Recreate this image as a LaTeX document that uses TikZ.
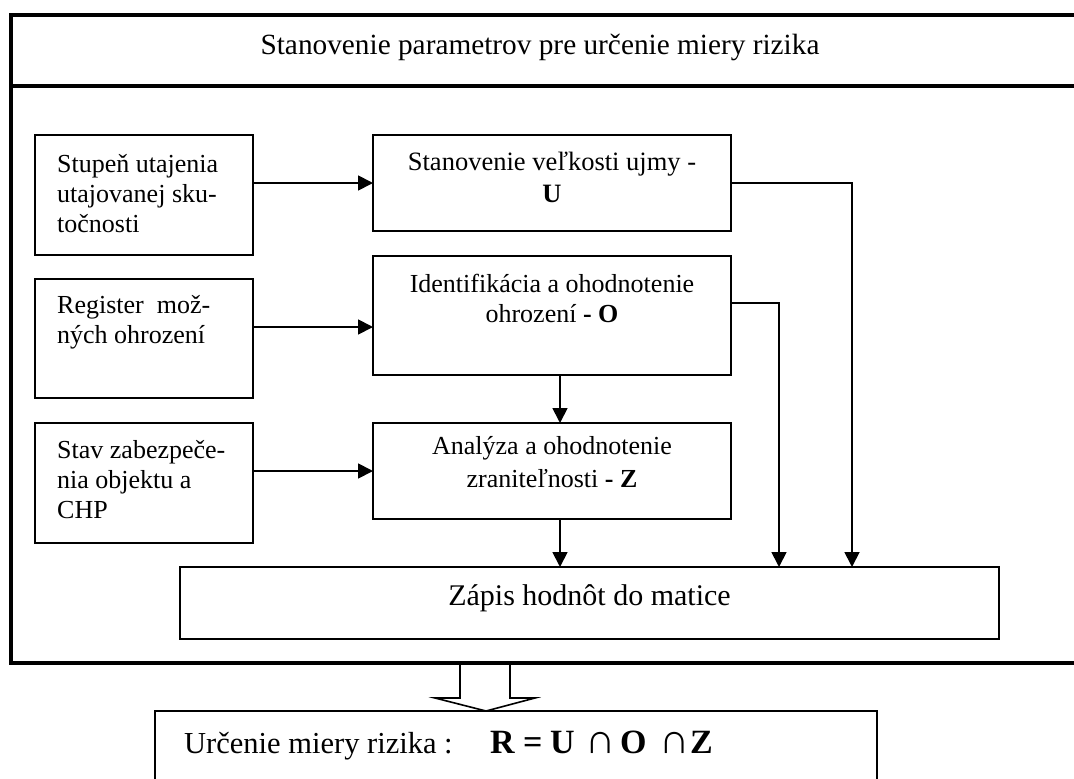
\documentclass[tikz,border=0pt]{standalone}
\usepackage{fontspec}
\setmainfont{Liberation Serif}
\usetikzlibrary{arrows.meta}
\newcommand{\slot}[2]{\makebox[#1][l]{#2}}
\newcommand{\capsym}[1]{{\hspace*{#1}\fontsize{42}{42}\selectfont ∩}}
\begin{document}
\begin{tikzpicture}[x=1pt,y=-1pt,
  frameline/.style={line width=4pt},
  blk/.style={draw, line width=1.8pt, inner sep=0pt, outer sep=0pt, anchor=north west},
  lbl/.style={inner sep=0pt, font=\fontsize{26}{30}\selectfont},
  flow/.style={line width=1.8pt, -{Triangle[length=15pt,width=15pt]}},
]
\useasboundingbox (0,0) rectangle (1074,779);

% outer frame with its heading strip
\draw[frameline] (1090,15) -- (11,15) -- (11,663) -- (1090,663);
\draw[frameline] (11,86) -- (1090,86);
\node[inner sep=0pt, font=\fontsize{29.3}{33}\selectfont, anchor=base] (title) at (540,54)
  {Stanovenie parametrov pre určenie miery rizika};

% input boxes (multi-line labels are anchored on their last baseline)
\node[blk, minimum width=218pt, minimum height=120pt] (s1) at (35,135) {};
\node[blk, minimum width=218pt, minimum height=119pt] (s2) at (35,279) {};
\node[blk, minimum width=218pt, minimum height=120pt] (s3) at (35,423) {};
\node[lbl, anchor=base west, align=left] (t1) at ([xshift=22pt,yshift=-97pt]s1.north west)
  {Stupeň utajenia\\utajovanej sku-\\točnosti};
\node[lbl, anchor=base west, align=left] (t2) at ([xshift=22pt,yshift=-64pt]s2.north west)
  {Register\ \ mož-\\ných ohrození};
\node[lbl, anchor=base west, align=left] (t3) at ([xshift=22pt,yshift=-95pt]s3.north west)
  {Stav zabezpeče-\\nia objektu a\\CHP};

% evaluation boxes
\node[blk, minimum width=358pt, minimum height=96pt] (u) at (373,135) {};
\node[blk, minimum width=358pt, minimum height=119pt] (o) at (373,256) {};
\node[blk, minimum width=358pt, minimum height=96pt] (z) at (373,423) {};
\node[lbl, font=\fontsize{26.5}{32}\selectfont, anchor=base, align=center] (tu) at ([yshift=-67pt]u.north)
  {Stanovenie\ veľkosti\ ujmy\ -\\\textbf{U}};
\node[lbl, anchor=base, align=center] (to) at ([yshift=-66pt]o.north)
  {Identifikácia a ohodnotenie\\ohrození \textbf{- O}};
\node[lbl, font=\fontsize{26}{33}\selectfont, anchor=base, align=center] (tz) at ([yshift=-64pt]z.north)
  {Analýza a ohodnotenie\\zraniteľnosti \textbf{- Z}};

% matrix entry box
\node[blk, minimum width=819pt, minimum height=72pt] (zap) at (180,567) {};
\node[inner sep=0pt, font=\fontsize{30}{34}\selectfont, anchor=base] (tzap) at ([yshift=-38pt]zap.north)
  {Zápis hodnôt do matice};

% result box
\node[blk, minimum width=722pt, minimum height=110pt] (res) at (155,711) {};
\node[inner sep=0pt, font=\fontsize{30.5}{34}\selectfont, anchor=base west] (tres) at (184,753)
  {\slot{306pt}{Určenie miery rizika :}{\fontsize{34}{38}\selectfont\bfseries
   \slot{33pt}{R}\slot{27pt}{=}\slot{35pt}{U}\slot{35pt}{\mdseries\capsym{0pt}}\slot{45pt}{O}\slot{25pt}{\mdseries\capsym{-6pt}}Z}};

% connectors
\draw[flow] (s1.east |- u.west) -- (u.west);
\draw[flow] (s2.east |- 0,327) -- (o.west |- 0,327);
\draw[flow] (s3.east |- z.west) -- (z.west);
\draw[flow] (u.east) -| (zap.north -| 852,0);
\draw[flow] (o.east |- 0,303) -| (zap.north -| 779,0);
\draw[flow] (o.south -| 560,0) -- (z.north -| 560,0);
\draw[flow] (z.south -| 560,0) -- (zap.north -| 560,0);

% hollow block arrow from the frame to the result
\coordinate (bl) at (460,663);
\coordinate (br) at (510,663);
\draw[line width=1.6pt, line join=miter] (bl) -- (460,698) -- (435,698) -- (res.north -| 486,0)
  -- (535,698) -- (510,698) -- (br);
\end{tikzpicture}
\end{document}
